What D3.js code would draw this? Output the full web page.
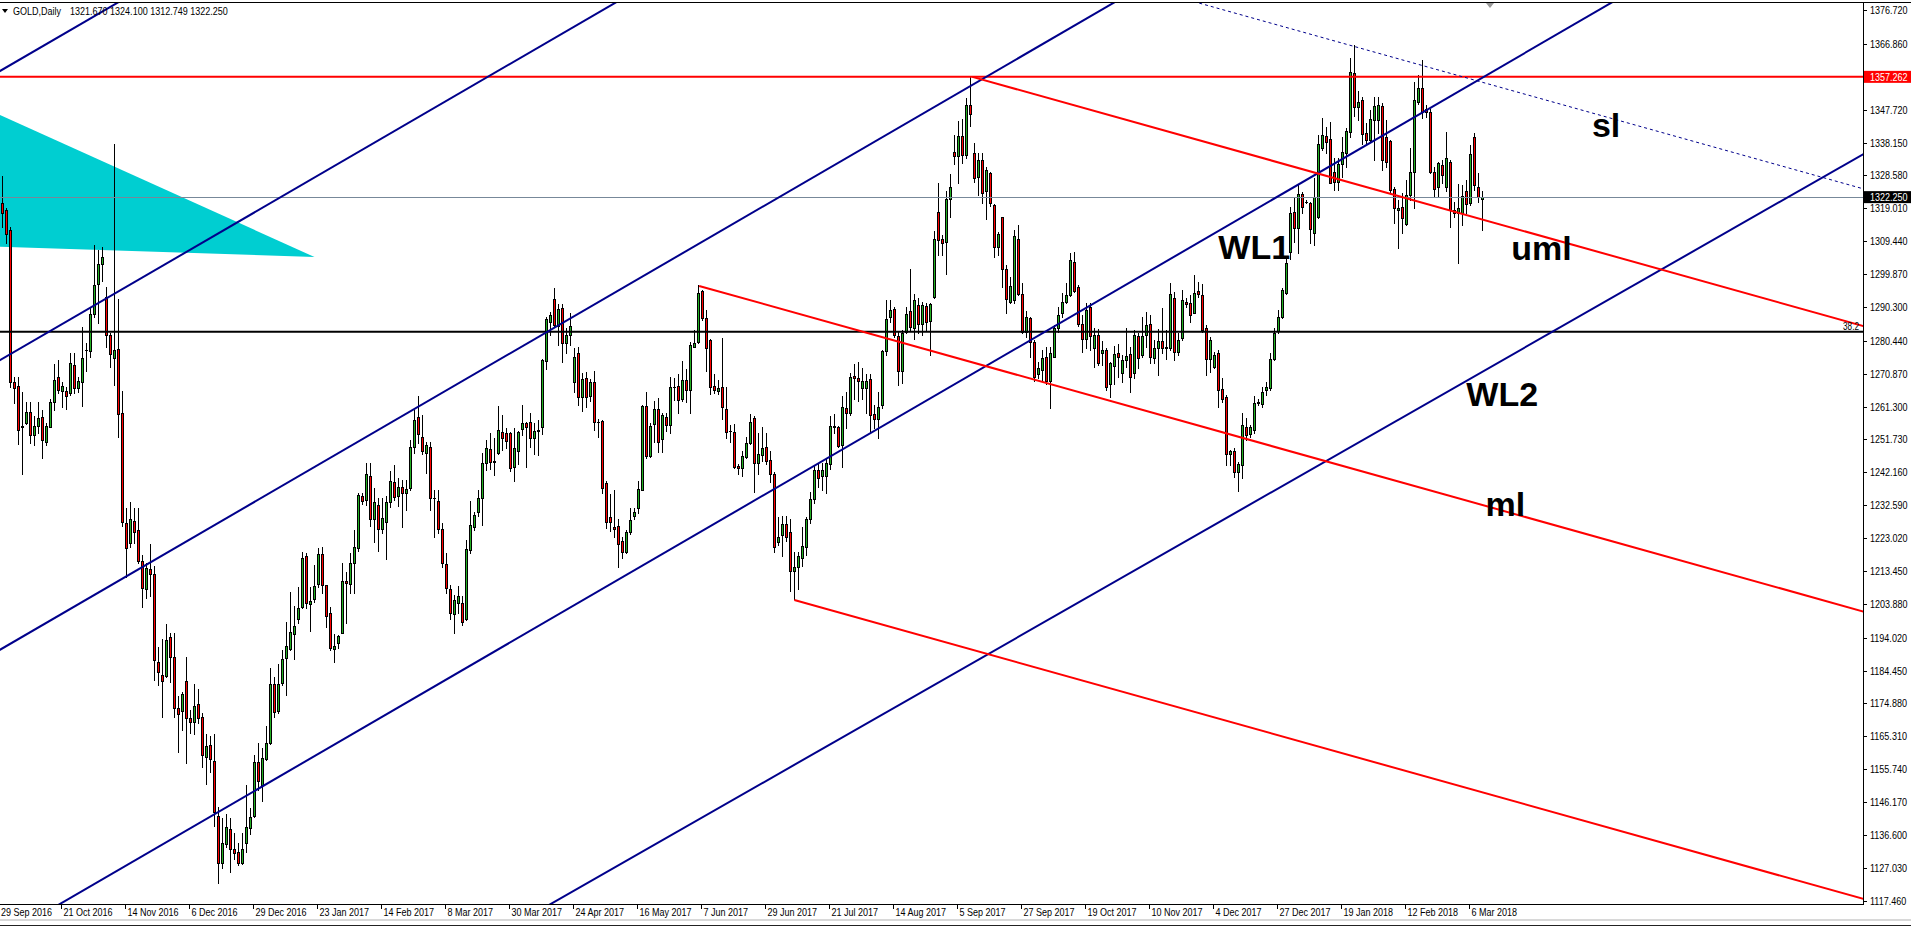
<!DOCTYPE html>
<html><head><meta charset="utf-8">
<script src="https://cdn.jsdelivr.net/npm/d3@7"></script>
<style>
html,body{margin:0;padding:0;background:#fff;overflow:hidden}
svg{display:block}
text{font-family:'Liberation Sans',Arial,sans-serif;font-size:11px}
.big{font-family:'Liberation Sans',Arial,sans-serif;font-weight:bold;font-size:34px}
</style></head><body>
<svg id="chart" width="1911" height="927"></svg>
<script>
// ---------------- DATA ----------------
const symbolName = "GOLD,Daily";
const headerValues = ["1321.670", "1324.100", "1312.749", "1322.250"];

// daily bars [open, high, low, close], 29 Sep 2016 .. 9 Mar 2018
const bars = [
[1325.0,1327.0,1316.0,1320.4],[1320.5,1328.4,1313.6,1317.7],[1318.5,1319.0,1308.8,1311.4],[1312.7,1313.5,1267.1,1268.5],
[1268.4,1270.0,1262.2,1266.6],[1267.3,1269.8,1250.3,1254.5],[1255.5,1265.6,1241.6,1255.3],[1256.6,1262.7,1256.2,1259.6],
[1259.6,1262.5,1250.6,1252.9],[1252.9,1258.4,1250.1,1255.6],[1255.7,1262.5,1253.5,1257.9],[1258.2,1260.3,1246.2,1251.5],
[1251.1,1256.4,1250.1,1255.6],[1255.4,1263.4,1255.2,1262.5],[1262.5,1273.6,1260.3,1269.0],[1269.8,1274.9,1265.1,1266.1],
[1265.9,1268.5,1261.3,1267.2],[1265.8,1267.1,1260.5,1264.5],[1265.2,1276.8,1264.7,1273.9],[1273.3,1277.0,1265.2,1266.8],
[1266.8,1270.0,1265.6,1268.7],[1268.3,1284.4,1261.5,1275.3],[1277.7,1279.9,1271.5,1277.8],[1277.4,1289.9,1275.8,1288.1],
[1288.1,1308.3,1287.5,1296.6],[1296.9,1306.9,1285.7,1302.7],[1302.7,1307.6,1297.8,1304.7],[1293.1,1296.0,1278.5,1282.0],
[1282.1,1282.6,1272.9,1276.5],[1275.5,1337.7,1267.6,1277.7],[1278.0,1292.5,1252.5,1259.0],[1259.3,1265.8,1226.5,1227.8],
[1227.3,1231.7,1211.8,1220.0],[1221.5,1233.6,1220.5,1228.5],[1227.9,1231.7,1221.5,1224.9],[1225.4,1231.9,1215.7,1216.2],
[1216.4,1218.1,1203.0,1208.4],[1208.1,1215.7,1205.5,1214.2],[1213.9,1221.3,1206.2,1212.5],[1212.6,1215.0,1181.7,1187.5],
[1186.8,1191.4,1180.2,1184.1],[1183.3,1193.6,1171.0,1181.5],[1183.0,1198.0,1182.7,1193.3],[1194.1,1195.3,1181.2,1188.5],
[1188.5,1195.3,1171.0,1173.5],[1173.5,1177.0,1160.8,1171.7],[1172.7,1178.3,1167.1,1177.6],[1181.4,1188.5,1157.4,1170.5],
[1170.5,1173.0,1166.4,1169.6],[1169.6,1180.4,1165.9,1174.1],[1174.6,1179.0,1169.3,1170.7],[1171.0,1172.0,1156.5,1159.9],
[1159.2,1165.9,1151.3,1162.5],[1162.8,1165.4,1154.8,1158.6],[1158.1,1165.9,1139.2,1143.4],[1142.1,1144.8,1122.5,1128.3],
[1128.3,1141.6,1126.9,1134.4],[1133.9,1142.6,1133.0,1138.8],[1138.2,1141.6,1125.9,1132.4],[1132.4,1137.3,1129.5,1131.4],
[1131.5,1134.4,1127.8,1128.3],[1128.3,1137.3,1128.0,1132.4],[1134.2,1151.1,1131.7,1138.8],[1138.5,1144.3,1136.8,1141.7],
[1142.1,1159.9,1141.9,1157.9],[1157.9,1163.3,1149.7,1152.3],[1151.1,1161.8,1146.5,1158.9],[1158.6,1168.3,1158.4,1163.5],
[1163.5,1185.1,1163.1,1180.4],[1180.4,1182.7,1171.0,1172.5],[1172.7,1186.5,1172.2,1180.4],[1180.9,1190.4,1180.2,1187.7],
[1188.0,1198.7,1177.3,1191.7],[1190.6,1207.2,1190.4,1195.6],[1195.0,1203.2,1187.8,1197.5],[1199.5,1208.7,1198.2,1202.8],
[1203.0,1219.1,1202.6,1217.1],[1217.9,1218.6,1202.6,1204.0],[1203.8,1208.9,1196.1,1204.8],[1205.2,1215.2,1204.5,1209.1],
[1209.5,1220.2,1208.9,1218.3],[1218.3,1220.5,1206.9,1209.3],[1209.3,1209.4,1197.2,1200.3],[1201.1,1203.0,1190.4,1190.9],
[1190.6,1195.0,1187.0,1191.6],[1192.6,1194.8,1190.9,1194.5],[1195.5,1215.7,1195.3,1210.6],[1210.6,1213.2,1198.4,1209.8],
[1209.5,1218.6,1207.1,1215.8],[1215.8,1225.3,1207.1,1220.3],[1220.0,1236.2,1219.3,1235.5],[1235.2,1236.2,1232.9,1233.9],
[1234.1,1245.0,1232.6,1241.8],[1241.1,1245.0,1226.5,1228.5],[1228.5,1237.5,1222.0,1233.6],[1232.6,1234.6,1219.3,1225.6],
[1225.6,1234.8,1224.4,1228.8],[1227.6,1235.2,1216.8,1233.6],[1233.4,1242.6,1232.1,1239.7],[1239.4,1244.3,1234.1,1235.1],
[1235.2,1240.4,1232.3,1237.9],[1237.8,1239.9,1226.3,1236.0],[1236.2,1239.9,1231.2,1237.4],[1237.7,1251.5,1237.0,1249.4],
[1249.4,1260.3,1247.9,1257.4],[1258.3,1264.4,1250.6,1253.2],[1252.3,1258.8,1247.6,1248.4],[1247.9,1251.1,1242.0,1250.1],
[1249.4,1251.1,1231.2,1234.6],[1234.8,1237.0,1223.2,1234.7],[1233.8,1237.0,1224.6,1225.6],[1225.6,1227.3,1214.5,1215.8],
[1215.4,1218.6,1206.9,1208.4],[1208.1,1209.3,1199.4,1201.1],[1200.9,1206.5,1195.3,1205.0],[1204.2,1209.1,1201.1,1206.1],
[1204.2,1206.1,1197.7,1198.7],[1199.6,1222.4,1199.2,1219.7],[1219.6,1233.9,1218.6,1226.8],[1226.3,1230.5,1225.5,1229.7],
[1230.7,1237.0,1229.4,1234.6],[1234.6,1247.9,1226.8,1244.8],[1244.8,1251.5,1242.8,1249.1],[1248.8,1253.7,1243.0,1245.2],
[1245.2,1252.0,1241.4,1245.3],[1247.9,1261.4,1247.6,1254.6],[1254.0,1258.8,1248.6,1252.0],[1253.5,1255.0,1249.1,1251.4],
[1253.5,1254.0,1242.6,1243.3],[1243.6,1255.0,1239.7,1249.1],[1248.4,1254.3,1244.6,1253.8],[1254.9,1261.7,1253.0,1256.4],
[1256.4,1256.9,1243.8,1255.4],[1256.7,1259.3,1249.6,1252.0],[1252.0,1256.4,1247.5,1254.3],[1254.3,1257.4,1247.2,1254.6],
[1255.4,1275.1,1253.3,1274.8],[1274.5,1287.5,1272.1,1286.7],[1286.0,1288.9,1282.1,1288.0],[1292.5,1295.7,1284.6,1285.0],
[1284.7,1291.1,1279.2,1289.6],[1289.9,1291.1,1274.4,1279.9],[1279.9,1284.1,1276.8,1282.1],[1282.1,1288.5,1279.2,1284.7],
[1268.5,1278.2,1265.6,1275.6],[1277.0,1278.5,1261.7,1264.0],[1264.0,1271.0,1260.1,1269.2],[1269.5,1271.4,1261.3,1264.2],
[1264.4,1269.2,1263.0,1268.5],[1268.5,1271.6,1254.6,1256.7],[1256.9,1257.6,1252.3,1256.8],[1257.1,1257.4,1236.0,1237.7],
[1238.9,1239.6,1225.8,1227.8],[1229.0,1235.7,1225.2,1227.8],[1226.3,1237.0,1223.4,1225.6],[1226.5,1228.7,1214.5,1221.3],
[1222.1,1223.2,1217.1,1219.0],[1219.0,1225.3,1218.6,1224.8],[1224.8,1231.9,1224.2,1228.4],[1229.5,1231.9,1228.7,1230.5],
[1231.7,1239.5,1230.2,1237.2],[1237.1,1261.8,1236.9,1261.5],[1261.5,1265.5,1246.3,1246.8],[1247.0,1256.6,1246.6,1255.6],
[1256.3,1262.9,1250.9,1260.5],[1260.5,1263.9,1248.0,1250.9],[1251.8,1259.3,1248.0,1258.7],[1258.2,1259.3,1254.1,1255.9],
[1255.9,1269.8,1253.5,1267.0],[1267.0,1269.6,1263.2,1267.1],[1267.4,1270.7,1259.4,1263.1],[1263.4,1274.5,1262.9,1268.9],
[1268.9,1272.2,1262.6,1266.0],[1266.0,1280.0,1259.3,1279.3],[1278.7,1283.7,1278.5,1279.7],[1280.0,1296.7,1279.8,1294.4],
[1294.8,1295.1,1286.5,1287.1],[1287.1,1289.4,1271.7,1278.2],[1280.6,1281.1,1264.9,1267.0],[1267.2,1270.7,1265.3,1266.0],
[1265.7,1269.1,1265.0,1266.7],[1267.0,1281.3,1257.7,1261.3],[1260.5,1267.0,1252.0,1254.0],[1254.3,1256.0,1251.0,1254.2],
[1254.0,1256.1,1243.4,1243.6],[1243.9,1244.7,1241.6,1243.3],[1243.3,1248.3,1241.1,1247.0],[1246.6,1252.5,1246.3,1250.7],
[1250.7,1259.0,1250.4,1256.9],[1257.9,1258.4,1236.4,1244.9],[1244.9,1253.5,1241.6,1247.5],[1247.1,1255.3,1245.5,1249.2],
[1249.6,1253.5,1244.7,1245.5],[1245.7,1248.3,1239.3,1241.6],[1241.8,1242.1,1218.9,1220.3],[1221.8,1229.1,1221.0,1223.4],
[1223.9,1229.3,1217.7,1227.0],[1227.0,1229.3,1222.3,1223.4],[1224.9,1228.6,1207.5,1213.3],[1213.5,1218.9,1205.2,1214.5],
[1214.5,1218.9,1208.3,1217.7],[1217.1,1226.2,1214.8,1220.8],[1220.5,1229.0,1218.0,1228.6],[1228.6,1236.4,1227.5,1234.3],
[1234.3,1244.0,1233.3,1242.8],[1242.8,1244.5,1238.0,1240.5],[1241.0,1245.0,1237.0,1242.8],[1241.0,1246.0,1236.0,1244.9],
[1244.7,1258.6,1243.0,1255.6],[1255.6,1259.2,1253.5,1255.4],[1255.3,1255.6,1249.4,1249.9],[1250.1,1264.5,1243.6,1261.1],
[1260.8,1265.5,1255.1,1259.4],[1259.4,1271.2,1258.7,1269.8],[1270.2,1273.8,1263.4,1269.6],[1269.6,1274.3,1262.9,1268.8],
[1266.7,1272.5,1263.4,1268.8],[1266.7,1270.7,1259.3,1268.8],[1269.3,1270.7,1254.0,1258.7],[1259.2,1261.8,1255.1,1257.7],
[1257.7,1265.5,1252.0,1261.1],[1261.8,1277.9,1260.8,1277.4],[1277.4,1292.3,1276.4,1286.8],[1287.3,1292.3,1286.0,1289.4],
[1289.7,1290.4,1281.6,1282.1],[1281.8,1283.2,1267.6,1271.5],[1271.7,1283.7,1268.1,1282.6],[1282.9,1290.4,1282.6,1288.1],
[1289.1,1301.3,1283.2,1284.4],[1284.2,1294.1,1281.1,1292.2],[1290.9,1293.0,1282.6,1285.2],[1285.2,1291.7,1282.1,1290.9],
[1290.6,1291.5,1283.2,1285.8],[1286.3,1291.5,1276.4,1291.2],[1293.2,1312.3,1293.0,1310.2],[1317.8,1326.3,1305.5,1309.7],
[1310.2,1311.2,1305.5,1308.9],[1309.1,1323.9,1299.8,1321.6],[1321.8,1329.1,1316.4,1325.3],[1335.3,1340.3,1332.0,1334.3],
[1334.3,1344.5,1326.3,1340.0],[1340.0,1344.9,1332.1,1334.5],[1334.5,1351.0,1333.5,1349.0],[1349.0,1357.6,1343.0,1346.5],
[1335.0,1337.9,1326.7,1327.7],[1328.2,1335.0,1322.9,1333.1],[1333.1,1335.0,1320.4,1323.4],[1323.9,1331.1,1315.8,1330.1],
[1329.2,1329.7,1319.7,1320.4],[1320.0,1320.3,1304.9,1307.6],[1307.8,1312.2,1305.4,1311.4],[1316.4,1316.6,1296.2,1301.2],
[1301.2,1302.5,1288.4,1292.5],[1291.8,1299.1,1291.3,1296.4],[1292.3,1312.7,1291.5,1310.9],[1310.0,1314.1,1293.8,1294.1],
[1294.1,1297.2,1282.6,1283.1],[1283.1,1289.2,1281.6,1287.4],[1287.0,1287.5,1275.8,1280.2],[1280.2,1280.7,1268.8,1270.0],
[1270.9,1274.4,1269.5,1272.4],[1271.9,1277.7,1269.0,1275.3],[1275.6,1278.7,1268.0,1268.8],[1268.8,1278.7,1260.8,1276.8],
[1275.8,1285.0,1275.6,1284.1],[1284.1,1290.4,1283.1,1287.9],[1288.4,1294.4,1287.5,1291.8],[1291.8,1297.2,1291.3,1293.8],
[1293.8,1306.1,1293.6,1303.9],[1303.5,1306.4,1294.7,1295.0],[1296.0,1296.7,1284.7,1285.3],[1285.3,1287.9,1277.3,1281.1],
[1281.1,1291.3,1278.2,1289.4],[1290.4,1291.3,1277.7,1281.8],[1278.2,1284.1,1272.7,1282.1],[1282.1,1283.8,1273.4,1273.9],
[1276.8,1280.5,1273.4,1277.7],[1277.7,1278.2,1266.1,1267.1],[1268.0,1274.4,1264.0,1273.9],[1273.1,1279.0,1268.0,1276.5],
[1276.8,1279.5,1270.0,1275.6],[1271.0,1276.3,1268.5,1274.8],[1274.8,1284.3,1272.9,1276.0],[1276.5,1278.7,1265.6,1269.8],
[1271.0,1283.6,1269.5,1282.1],[1281.8,1282.6,1272.4,1275.3],[1276.3,1287.5,1275.8,1281.8],[1282.1,1288.9,1278.7,1285.0],
[1285.3,1287.9,1273.9,1275.6],[1275.3,1280.7,1273.9,1278.2],[1278.2,1283.8,1270.5,1280.5],[1280.5,1289.9,1276.8,1278.2],
[1278.6,1283.6,1275.0,1278.4],[1278.4,1297.2,1277.9,1294.2],[1292.8,1294.7,1274.8,1277.3],[1277.3,1282.6,1276.3,1280.7],
[1281.2,1295.2,1280.7,1292.3],[1291.8,1292.8,1290.4,1291.1],[1291.5,1293.8,1286.0,1287.9],[1288.6,1299.6,1288.4,1294.4],
[1294.9,1297.6,1293.3,1294.1],[1293.8,1297.0,1283.1,1283.6],[1284.1,1285.0,1270.5,1275.0],[1275.0,1281.6,1271.4,1280.7],
[1272.9,1277.3,1272.4,1276.3],[1276.8,1277.7,1261.3,1266.1],[1266.3,1269.5,1262.7,1263.4],[1264.0,1264.7,1244.3,1247.5],
[1247.4,1248.6,1244.3,1248.4],[1248.4,1249.1,1240.9,1242.1],[1242.1,1245.2,1236.8,1244.5],[1244.3,1259.3,1240.4,1255.9],
[1255.2,1257.9,1251.6,1253.0],[1253.2,1255.9,1252.5,1255.2],[1254.5,1264.4,1253.5,1262.2],[1262.4,1263.4,1261.7,1262.5],
[1262.0,1267.1,1261.3,1265.6],[1266.1,1268.5,1264.7,1267.1],[1266.8,1276.8,1266.1,1275.1],[1275.1,1284.1,1274.8,1282.8],
[1283.3,1289.4,1282.6,1287.3],[1287.5,1295.7,1287.0,1295.2],[1294.4,1304.4,1294.2,1303.0],[1306.4,1319.5,1304.1,1317.5],
[1317.8,1321.9,1309.3,1313.4],[1313.2,1325.8,1306.1,1323.2],[1323.2,1323.8,1317.5,1319.5],[1320.9,1321.4,1320.4,1320.7],
[1320.6,1320.9,1309.0,1312.9],[1311.9,1327.7,1308.3,1322.4],[1316.4,1340.3,1316.1,1337.6],[1336.6,1345.2,1336.0,1340.3],
[1340.0,1342.7,1335.0,1338.4],[1339.1,1344.2,1326.3,1326.5],[1329.7,1333.5,1324.3,1326.7],[1326.7,1333.5,1324.3,1331.9],
[1331.9,1339.8,1328.2,1335.5],[1335.2,1342.3,1331.1,1341.5],[1341.3,1362.7,1339.8,1358.6],[1358.3,1366.5,1345.9,1348.4],
[1348.4,1353.0,1344.7,1350.0],[1350.5,1351.5,1337.7,1340.6],[1341.0,1343.7,1337.9,1338.9],[1338.9,1347.6,1338.4,1344.9],
[1344.7,1351.5,1333.0,1348.8],[1344.7,1351.5,1340.8,1349.1],[1348.8,1349.6,1330.2,1333.0],[1339.8,1344.7,1331.1,1332.6],
[1338.6,1338.9,1323.4,1324.3],[1324.5,1325.3,1314.6,1319.0],[1318.5,1321.4,1307.3,1319.0],[1319.3,1323.4,1311.7,1316.1],
[1314.4,1327.2,1314.1,1322.9],[1322.9,1336.5,1321.4,1329.7],[1329.7,1355.9,1319.0,1350.5],[1350.0,1357.8,1349.5,1353.9],
[1353.9,1362.2,1345.2,1347.1],[1347.8,1349.1,1345.7,1347.1],[1347.1,1347.8,1329.2,1329.7],[1329.7,1331.1,1322.6,1324.5],
[1325.1,1332.6,1322.4,1332.1],[1331.6,1333.0,1326.3,1328.7],[1325.3,1341.3,1324.1,1333.5],[1332.6,1333.0,1313.6,1318.5],
[1318.5,1320.9,1316.6,1317.7],[1317.5,1326.1,1303.0,1319.0],[1317.7,1325.8,1314.1,1322.6],[1324.1,1327.2,1317.5,1320.2],
[1320.4,1337.4,1319.9,1334.8],[1339.8,1340.8,1324.3,1325.8],[1325.3,1329.2,1320.9,1322.2],[1321.67,1324.10,1312.749,1322.25]
];

// time axis labels, one every 16 bars
const dateLabels = ["29 Sep 2016","21 Oct 2016","14 Nov 2016","6 Dec 2016","29 Dec 2016","23 Jan 2017",
  "14 Feb 2017","8 Mar 2017","30 Mar 2017","24 Apr 2017","16 May 2017","7 Jun 2017","29 Jun 2017",
  "21 Jul 2017","14 Aug 2017","5 Sep 2017","27 Sep 2017","19 Oct 2017","10 Nov 2017","4 Dec 2017",
  "27 Dec 2017","19 Jan 2018","12 Feb 2018","6 Mar 2018"];
const dateLabelStep = 16;

// price axis labels
const priceTicks = [1376.720,1366.860,1347.720,1338.150,1328.580,1319.010,1309.440,1299.870,1290.300,
  1280.440,1270.870,1261.300,1251.730,1242.160,1232.590,1223.020,1213.450,1203.880,1194.020,1184.450,
  1174.880,1165.310,1155.740,1146.170,1136.600,1127.030,1117.460];

const bidPrice = 1322.25;
const resistancePrice = 1357.262;
const fiboPrice = 1283.1;
const fiboText = "38.2";

// ascending channel lines (bar index, price) pairs
const channelLines = [
  [[0, 1358.68], [300, 1561.59]],
  [[0, 1274.50], [300, 1477.41]],
  [[0, 1190.23], [300, 1393.14]],
  [[0, 1106.09], [300, 1309.00]],
  [[311.24, 1231.67], [462.92, 1332.56]]
];
// pitchfork rays: start point (bar index, price); common slope in price per bar
const pitchforkStarts = [[243.5, 1357.26], [175.2, 1296.4], [199.0, 1205.0]];
const pitchforkSlope = -0.3256;
const slAnchor = [339, 1366.1];
// cyan triangle vertices (bar index, price)
const triangleVerts = [[0.42, 1346.16], [79.04, 1304.82], [0.42, 1307.82]];
// text annotations (bar index, price of baseline)
const annotations = [
  {text: "sl",  k: 398.4, p: 1339.75},
  {text: "uml", k: 378.2, p: 1303.95},
  {text: "WL1", k: 305.0, p: 1304.24},
  {text: "WL2", k: 367.0, p: 1261.45},
  {text: "ml",  k: 371.8, p: 1229.43}
];
const shiftMarkerBar = 373;

// ---------------- DRAW ----------------
const W = 1911, H = 927;
const plotR = 1863, plotT = 3, plotB = 904;
const NARROW = 0.82;
const svg = d3.select("#chart");

const x = d3.scaleLinear().domain([0, bars.length - 1]).range([-1.67, -1.67 + 4 * (bars.length - 1)]);
const y = d3.scaleLinear().domain([d3.min(priceTicks), d3.max(priceTicks)]).range([900.7, 10]);

// small condensed text (Tahoma-like width)
function smallText(parent, tx, ty, str, opts = {}) {
  const t = parent.append("text")
    .attr("transform", `translate(${tx},${ty}) scale(${NARROW},1)`)
    .attr("x", 0).attr("y", 0).text(str);
  if (opts.anchor) t.attr("text-anchor", opts.anchor);
  if (opts.fill) t.attr("fill", opts.fill);
  if (opts.dy) t.attr("dy", opts.dy);
  if (opts.size) t.style("font-size", opts.size);
  return t;
}

svg.append("defs").append("clipPath").attr("id", "plotClip")
  .append("rect").attr("x", 0).attr("y", plotT).attr("width", plotR).attr("height", plotB - plotT);

const plot = svg.append("g").attr("clip-path", "url(#plotClip)");

// triangle (background object)
plot.append("path")
  .attr("d", d3.line().x(d => x(d[0])).y(d => y(d[1]))(triangleVerts) + "Z")
  .attr("fill", "#00CED1");

// candles
const cg = plot.append("g").attr("shape-rendering", "crispEdges");
const candle = cg.selectAll("g").data(bars).join("g");
candle.each(function(d, i) {
  const g = d3.select(this);
  const [o, h, l, c] = d;
  const cx = Math.floor(x(i));
  const yh = Math.round(y(h)), yl = Math.round(y(l));
  g.append("rect").attr("x", cx).attr("y", yh).attr("width", 1).attr("height", Math.max(1, yl - yh + 1)).attr("fill", "#000");
  const yt = Math.round(y(Math.max(o, c))), yb = Math.round(y(Math.min(o, c)));
  g.append("rect").attr("x", cx - 1).attr("y", yt).attr("width", 3).attr("height", yb - yt + 1).attr("fill", "#000");
  if (yb - yt - 1 > 0) {
    g.append("rect").attr("x", cx).attr("y", yt + 1).attr("width", 1).attr("height", yb - yt - 1)
      .attr("fill", c >= o ? "#22b022" : "#ff0000");
  }
});

const kL = x.invert(-20), kR = x.invert(plotR + 20);
function fullLine(a, b) {
  const s = (b[1] - a[1]) / (b[0] - a[0]);
  return [[kL, a[1] + s * (kL - a[0])], [kR, a[1] + s * (kR - a[0])]];
}
const lineGen = d3.line().x(d => x(d[0])).y(d => y(d[1]));

// bid line
plot.append("line").attr("x1", 0).attr("x2", plotR).attr("y1", Math.round(y(bidPrice)) + 0.5).attr("y2", Math.round(y(bidPrice)) + 0.5)
  .attr("stroke", "#778899").attr("stroke-width", 1);

// horizontal levels
plot.append("line").attr("x1", 0).attr("x2", plotR).attr("y1", y(resistancePrice)).attr("y2", y(resistancePrice))
  .attr("stroke", "#ff0000").attr("stroke-width", 2);
plot.append("line").attr("x1", 0).attr("x2", plotR).attr("y1", y(fiboPrice)).attr("y2", y(fiboPrice))
  .attr("stroke", "#000").attr("stroke-width", 2);
smallText(svg, plotR - 4, y(fiboPrice) - 2, fiboText, {anchor: "end", size: "10px"});

// channel lines
plot.selectAll("path.ch").data(channelLines).join("path").attr("class", "ch")
  .attr("d", d => lineGen(fullLine(d[0], d[1])))
  .attr("stroke", "#00008B").attr("stroke-width", 2).attr("fill", "none");

// pitchfork rays
plot.selectAll("path.pf").data(pitchforkStarts).join("path").attr("class", "pf")
  .attr("d", d => lineGen([d, [kR, d[1] + pitchforkSlope * (kR - d[0])]]))
  .attr("stroke", "#ff0000").attr("stroke-width", 2).attr("fill", "none");

// sliding parallel (dotted)
plot.append("path")
  .attr("d", lineGen(fullLine(slAnchor, [slAnchor[0] + 1, slAnchor[1] + pitchforkSlope])))
  .attr("stroke", "#00008B").attr("stroke-width", 1).attr("stroke-dasharray", "3,3").attr("fill", "none");

// annotations
svg.selectAll("text.ann").data(annotations).join("text").attr("class", "ann big")
  .attr("x", d => x(d.k)).attr("y", d => y(d.p)).attr("fill", "#000").text(d => d.text);

// frame
svg.append("line").attr("x1", 0).attr("x2", W).attr("y1", 2.5).attr("y2", 2.5).attr("stroke", "#000");
svg.append("line").attr("x1", plotR + 0.5).attr("x2", plotR + 0.5).attr("y1", 2).attr("y2", plotB + 1).attr("stroke", "#000");
svg.append("line").attr("x1", 0).attr("x2", plotR + 1).attr("y1", plotB + 0.5).attr("y2", plotB + 0.5).attr("stroke", "#000");

// shift marker
const sx = Math.round(x(shiftMarkerBar));
svg.append("path").attr("d", `M${sx - 4},3L${sx + 4},3L${sx},8Z`).attr("fill", "#999");

// price axis
const pa = svg.append("g");
priceTicks.forEach(v => {
  const yy = Math.round(y(v)) + 0.5;
  pa.append("line").attr("x1", plotR).attr("x2", plotR + 4).attr("y1", yy).attr("y2", yy).attr("stroke", "#000");
  smallText(pa, plotR + 7, yy, v.toFixed(3), {dy: "0.35em"});
});
function priceBox(v, bg, txt) {
  const yy = y(v);
  pa.append("rect").attr("x", plotR + 1).attr("y", yy - 6).attr("width", W - plotR - 1).attr("height", 12).attr("fill", bg);
  smallText(pa, plotR + 7, yy, v.toFixed(3), {dy: "0.35em", fill: txt});
}
priceBox(resistancePrice, "#ff0000", "#fff");
priceBox(bidPrice, "#000", "#fff");

// time axis
const ta = svg.append("g");
dateLabels.forEach((lab, n) => {
  const tx = Math.round(x(n * dateLabelStep) - 1.33) + 0.5;
  ta.append("line").attr("x1", tx).attr("x2", tx).attr("y1", plotB).attr("y2", plotB + 5).attr("stroke", "#000");
  smallText(ta, Math.max(tx + 2, 1), plotB + 12, lab);
});

// header
svg.append("path").attr("d", "M2,9L8,9L5,13Z").attr("fill", "#000");
smallText(svg, 13, 14.5, symbolName);
smallText(svg, 70, 14.5, headerValues.join(" "));

// window bottom edge
svg.append("rect").attr("x", 0).attr("y", 919).attr("width", W).attr("height", 2).attr("fill", "#d8d8d8");
svg.append("line").attr("x1", 0).attr("x2", W).attr("y1", 925.5).attr("y2", 925.5).attr("stroke", "#222");
</script>
</body></html>
